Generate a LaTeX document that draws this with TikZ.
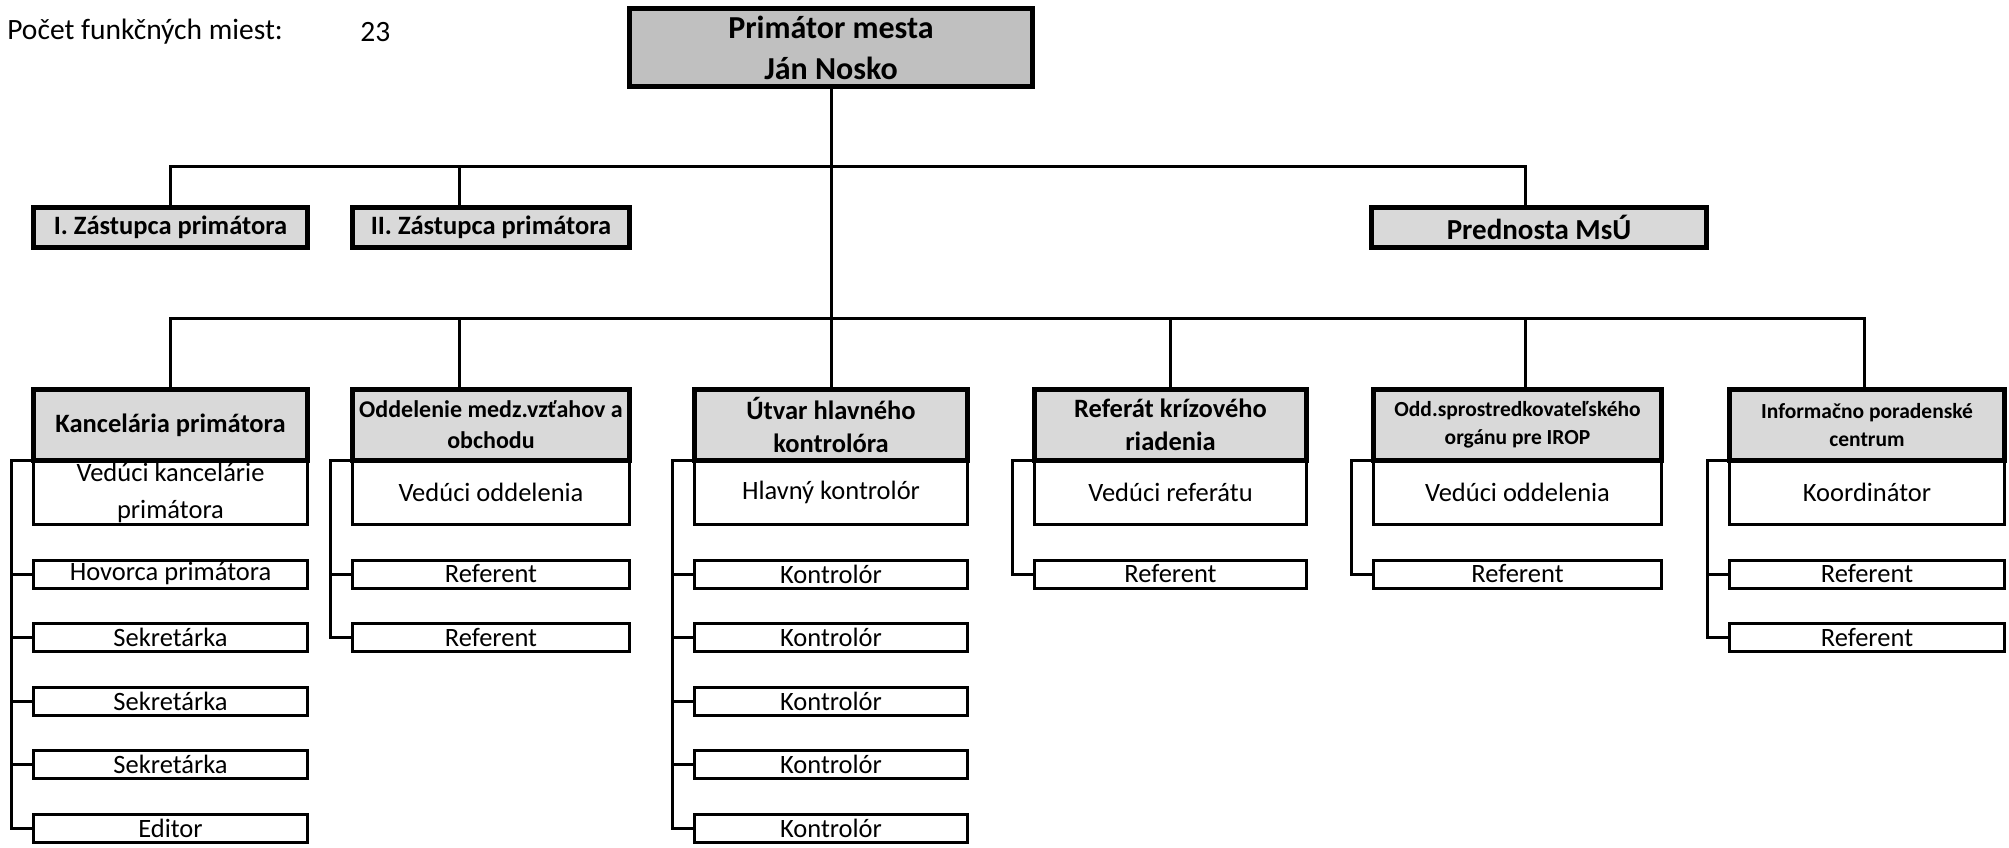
\documentclass[tikz,border=0pt]{standalone}
\usepackage{fontspec}
\setmainfont{Carlito}
\usepackage{tikz}
\usetikzlibrary{positioning}
\definecolor{primgray}{HTML}{C0C0C0}
\definecolor{headgray}{HTML}{D9D9D9}

\begin{document}
\begin{tikzpicture}[x=1pt, y=-1pt, node distance=35.5pt, every node/.style={outer sep=0pt},
    prim/.style={draw, line width=5pt, fill=primgray, minimum width=403pt, minimum height=78pt, inner sep=0pt, align=center, font=\fontsize{32}{41}\selectfont\bfseries},
    deputy/.style={draw, line width=5pt, fill=headgray, minimum width=#1, minimum height=40pt, inner sep=0pt, font=\fontsize{26.5}{32}\selectfont\bfseries},
    dept/.style={draw, line width=5pt, fill=headgray, minimum width=#1, minimum height=71pt, inner sep=0pt, align=center, font=\fontsize{26.5}{33}\selectfont\bfseries},
    lead/.style={draw, line width=3pt, minimum width=#1, minimum height=64pt, inner sep=0pt, align=center, font=\fontsize{26.5}{37}\selectfont},
    staff/.style={draw, line width=3pt, minimum width=#1, minimum height=28pt, inner sep=0pt, font=\fontsize{26.5}{32}\selectfont},
    conn/.style={line width=3pt}]
    \useasboundingbox (0,0) rectangle (2009,847);

    \node[anchor=west, font=\fontsize{29.5}{35}\selectfont] (count) at (4,32) {Počet funkčných miest:};
    \node[anchor=west, font=\fontsize{29.5}{35}\selectfont] (countval) at (357,32) {23};

    \node[prim] (mayor) at (831,47.5) {Primátor mesta\\Ján Nosko};

    \node[deputy=274pt] (dep1) at (170.5,227.5) {I. Zástupca primátora};
    \node[deputy=277pt] (dep2) at (491,227.5) {II. Zástupca primátora};
    \node[deputy=335pt, font=\fontsize{29}{34}\selectfont\bfseries] (chief) at (1539,227.5) {Prednosta MsÚ};

    % oddelenia
    \node[dept=274pt] (kanc) at (170.5,425) {Kancelária primátora};
    \node[dept=277pt, font=\fontsize{24}{31}\selectfont\bfseries] (odd) at (491,425) {Oddelenie medz.vzťahov a\\obchodu};
    \node[dept=273pt] (utv) at (831,425) {Útvar hlavného\\kontrolóra};
    \node[dept=272pt] (ref) at (1170.5,425) {Referát krízového\\riadenia};
    \node[dept=288pt, font=\fontsize{21.5}{28}\selectfont\bfseries] (irop) at (1517.5,425) {Odd.sprostredkovateľského\\orgánu pre IROP};
    \node[dept=275pt, font=\fontsize{21.5}{28}\selectfont\bfseries] (ipc) at (1867,425) {Informačno poradenské\\centrum};

    \node[lead=274pt, below=0pt of kanc] (kanc1) {Vedúci kancelárie\\primátora};
    \node[staff=274pt, below=of kanc1] (kanc2) {Hovorca primátora};
    \node[staff=274pt, below=of kanc2] (kanc3) {Sekretárka};
    \node[staff=274pt, below=of kanc3] (kanc4) {Sekretárka};
    \node[staff=274pt, below=of kanc4] (kanc5) {Sekretárka};
    \node[staff=274pt, below=of kanc5] (kanc6) {Editor};

    \node[lead=277pt, below=0pt of odd] (odd1) {Vedúci oddelenia};
    \node[staff=277pt, below=of odd1] (odd2) {Referent};
    \node[staff=277pt, below=of odd2] (odd3) {Referent};

    \node[lead=273pt, below=0pt of utv] (utv1) {Hlavný kontrolór};
    \node[staff=273pt, below=of utv1] (utv2) {Kontrolór};
    \node[staff=273pt, below=of utv2] (utv3) {Kontrolór};
    \node[staff=273pt, below=of utv3] (utv4) {Kontrolór};
    \node[staff=273pt, below=of utv4] (utv5) {Kontrolór};
    \node[staff=273pt, below=of utv5] (utv6) {Kontrolór};

    \node[lead=272pt, below=0pt of ref] (ref1) {Vedúci referátu};
    \node[staff=272pt, below=of ref1] (ref2) {Referent};

    \node[lead=288pt, below=0pt of irop] (irop1) {Vedúci oddelenia};
    \node[staff=288pt, below=of irop1] (irop2) {Referent};

    \node[lead=275pt, below=0pt of ipc] (ipc1) {Koordinátor};
    \node[staff=275pt, below=of ipc1] (ipc2) {Referent};
    \node[staff=275pt, below=of ipc2] (ipc3) {Referent};

    % vedenie
    \coordinate (bus1) at (831,166);
    \coordinate (bus2) at (831,318);
    \draw[conn] (mayor.south) -- (utv.north);
    \draw[conn] (dep1.north) |- (bus1) -| ([xshift=-14pt]chief.north);
    \draw[conn] ([xshift=-32pt]dep2.north) -- ([xshift=-32pt]dep2.north |- bus1);
    \draw[conn] (kanc.north) |- (bus2) -| ([xshift=-3pt]ipc.north);
    \draw[conn] ([xshift=-32pt]odd.north) -- ([xshift=-32pt]odd.north |- bus2);
    \draw[conn] (ref.north) -- (ref.north |- bus2);
    \draw[conn] ([xshift=7.5pt]irop.north) -- ([xshift=7.5pt]irop.north |- bus2);

    % podriadene miesta
    \draw[conn] (kanc.south west) -- ++(-22,0) |- (kanc6.west);
    \foreach \i in {2,...,5} \draw[conn] (kanc\i.west) -- ++(-22,0);
    \draw[conn] (odd.south west) -- ++(-22,0) |- (odd3.west);
    \draw[conn] (odd2.west) -- ++(-22,0);
    \draw[conn] (utv.south west) -- ++(-22,0) |- (utv6.west);
    \foreach \i in {2,...,5} \draw[conn] (utv\i.west) -- ++(-22,0);
    \draw[conn] (ref.south west) -- ++(-22,0) |- (ref2.west);
    \draw[conn] (irop.south west) -- ++(-22,0) |- (irop2.west);
    \draw[conn] (ipc.south west) -- ++(-22,0) |- (ipc3.west);
    \draw[conn] (ipc2.west) -- ++(-22,0);
\end{tikzpicture}
\end{document}
